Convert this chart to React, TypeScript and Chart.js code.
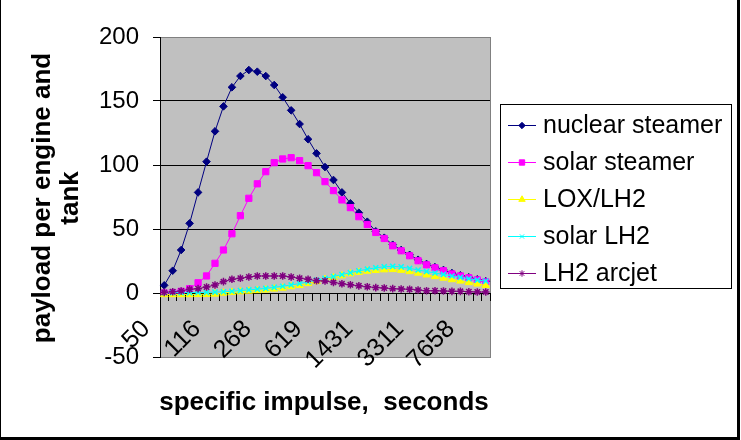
import React, { useEffect, useRef } from 'react';
import { Chart, registerables } from 'chart.js';
import { drawPoint } from 'chart.js/helpers';

Chart.register(...registerables);

// Specific impulse of each category, seconds
const ispSeconds = [
  50, 58, 66, 76, 88, 101, 116, 133, 153, 176, 203, 233, 268, 308, 354, 407, 468, 538, 619, 712,
  818, 941, 1082, 1244, 1431, 1645, 1891, 2174, 2499, 2873, 3311, 3807, 4377, 5033, 5787, 6654,
  7658, 8805, 10124,
];

// Category labels printed under the axis
const shownTicks = ['50', '116', '268', '619', '1431', '3311', '7658'];

// Payload per engine and tank
const nuclearSteamer = [
  6.0, 17.4, 33.6, 54.4, 78.6, 102.6, 126.3, 145.8, 160.7, 169.5, 174.2, 172.9, 169.5, 162.5,
  152.9, 142.7, 132.0, 120.1, 109.1, 98.4, 88.3, 78.6, 70.1, 62.7, 55.7, 48.2, 43.2, 37.7, 33.6,
  29.8, 26.0, 22.7, 20.2, 18.0, 15.6, 13.8, 12.3, 10.7, 9.2,
];
const solarSteamer = [
  0.0, 0.2, 1.3, 3.4, 8.0, 13.3, 23.2, 33.6, 46.3, 60.4, 74.0, 85.3, 94.8, 101.8, 104.7, 105.7,
  103.4, 99.5, 94.0, 87.0, 80.0, 72.7, 66.7, 59.6, 53.5, 47.3, 42.6, 36.9, 33.0, 29.1, 25.2, 22.0,
  19.7, 17.4, 14.9, 13.3, 11.9, 10.2, 8.7,
];
const loxLh2 = [
  -1.2, -1.2, -1.2, -1.2, -1.1, -1.0, -0.8, 0.0, 0.5, 1.0, 1.5, 1.9, 2.4, 3.2, 3.9, 5.0, 6.0, 7.5,
  9.0, 10.6, 12.1, 13.5, 15.1, 16.2, 17.1, 17.7, 18.2, 18.4, 17.8, 16.8, 15.6, 14.2, 12.9, 11.7,
  10.5, 9.4, 8.2, 7.1, 6.0,
];
const solarLh2 = [
  0.2, 0.2, 0.3, 0.3, 0.4, 0.5, 0.7, 1.0, 1.4, 1.9, 2.4, 3.0, 3.6, 4.4, 5.3, 6.3, 7.4, 8.7, 10.0,
  11.4, 12.9, 14.4, 15.9, 17.3, 18.6, 19.7, 20.5, 20.8, 20.4, 19.2, 18.0, 16.8, 15.6, 14.5, 13.3,
  12.2, 11.1, 10.1, 9.3,
];
const lh2Arcjet = [
  0.5, 1.0, 1.6, 2.9, 3.4, 4.7, 6.3, 8.9, 10.7, 11.5, 12.5, 13.3, 13.3, 13.3, 13.3, 12.5, 11.5,
  10.7, 9.6, 9.4, 8.3, 7.2, 6.4, 5.6, 4.9, 4.2, 3.9, 3.4, 3.1, 2.9, 2.3, 1.8, 1.8, 1.6, 1.3, 1.3,
  1.0, 0.8, 0.8,
];

const seriesNames = ['nuclear steamer', 'solar steamer', 'LOX/LH2', 'solar LH2', 'LH2 arcjet'];
const seriesData = [nuclearSteamer, solarSteamer, loxLh2, solarLh2, lh2Arcjet];
const seriesColors = ['#000080', '#FF00FF', '#FFFF00', '#00FFFF', '#800080'];
const seriesMarkers = ['rectRot', 'rect', 'triangle', 'crossRot', 'star'];
const markerRadius = [3.8, 4.4, 4.3, 3.6, 3.8];
const markerBorder = [1, 1, 1, 1.5, 1.5];

const FONT = '"Liberation Sans", Arial, sans-serif';

const decorations = {
  id: 'decorations',
  beforeDraw(chart: any) {
    const { ctx, chartArea: a } = chart;
    ctx.save();
    ctx.fillStyle = '#FFFFFF';
    ctx.fillRect(0, 0, chart.width, chart.height);
    ctx.fillStyle = '#C0C0C0';
    ctx.fillRect(a.left, a.top, a.right - a.left, a.bottom - a.top);
    ctx.strokeStyle = '#808080';
    ctx.lineWidth = 1;
    ctx.strokeRect(Math.round(a.left) + 0.5, Math.round(a.top) + 0.5, Math.round(a.right - a.left), Math.round(a.bottom - a.top));
    ctx.restore();
  },
  afterDraw(chart: any) {
    const { ctx } = chart;
    const xs = chart.scales.x;
    const ys = chart.scales.y;
    const y0 = ys.getPixelForValue(0);
    ctx.save();

    // rotated category labels
    ctx.fillStyle = '#000';
    ctx.font = `25px ${FONT}`;
    ctx.textAlign = 'right';
    ctx.textBaseline = 'middle';
    shownTicks.forEach((t) => {
      const idx = ispSeconds.indexOf(Number(t));
      const px = xs.getPixelForValue(idx);
      ctx.save();
      ctx.translate(px - 18, y0 + 32);
      ctx.rotate(-Math.PI / 4);
      ctx.fillText(t, 0, 0);
      ctx.restore();
    });

    // axis titles
    ctx.font = `bold 26px ${FONT}`;
    ctx.textAlign = 'center';
    ctx.textBaseline = 'middle';
    ctx.fillText('specific impulse,  seconds', 324, 403);
    ctx.save();
    ctx.translate(43, 198);
    ctx.rotate(-Math.PI / 2);
    ctx.fillText('payload per engine and', 0, 0);
    ctx.fillText('tank', 0, 28);
    ctx.restore();

    // legend
    const lx = 500.5, ly = 104.5, lw = 231, lh = 184;
    ctx.fillStyle = '#FFFFFF';
    ctx.fillRect(lx, ly, lw, lh);
    ctx.strokeStyle = '#000';
    ctx.lineWidth = 1;
    ctx.strokeRect(lx, ly, lw, lh);
    const rows = [125, 162, 199, 236, 273];
    seriesNames.forEach((name, i) => {
      const cy = rows[i];
      ctx.strokeStyle = seriesColors[i];
      ctx.fillStyle = seriesColors[i];
      ctx.lineWidth = 1;
      ctx.beginPath();
      ctx.moveTo(508, cy + 0.5);
      ctx.lineTo(536, cy + 0.5);
      ctx.stroke();
      drawPoint(ctx, { pointStyle: seriesMarkers[i], radius: markerRadius[i] - 0.6, borderWidth: markerBorder[i], rotation: 0 } as any, 522, cy + 0.5);
      ctx.fillStyle = '#000';
      ctx.font = `25px ${FONT}`;
      ctx.textAlign = 'left';
      ctx.textBaseline = 'middle';
      ctx.fillText(name, 543, cy + 1);
    });

    // outer frame
    ctx.fillStyle = '#000';
    ctx.fillRect(0, 0, 1, 440);
    ctx.fillRect(737, 0, 3, 440);
    ctx.fillRect(0, 437, 740, 3);
    ctx.restore();
  },
};

export default function App() {
  const ref = useRef<HTMLCanvasElement | null>(null);

  useEffect(() => {
    document.body.style.margin = '0';
    const canvas = ref.current;
    if (!canvas) return;
    const n = seriesNames.length;
    const chart = new Chart(canvas, {
      type: 'line',
      data: {
        labels: ispSeconds.map(String),
        datasets: seriesNames.map((name, i) => ({
          label: name,
          data: seriesData[i],
          borderColor: seriesColors[i],
          backgroundColor: seriesColors[i],
          borderWidth: 1,
          pointStyle: seriesMarkers[i] as any,
          pointRadius: markerRadius[i],
          pointBorderWidth: markerBorder[i],
          pointBackgroundColor: seriesColors[i],
          pointBorderColor: seriesColors[i],
          tension: 0,
          order: n - i,
        })),
      },
      options: {
        responsive: false,
        animation: false,
        events: [],
        layout: { padding: { left: 0, top: 37, right: 251, bottom: 83 } },
        plugins: { legend: { display: false }, tooltip: { enabled: false } },
        scales: {
          x: {
            type: 'category',
            position: { y: 0 } as any,
            offset: true,
            grid: {
              display: true,
              drawOnChartArea: false,
              drawTicks: true,
              tickLength: 7,
              offset: true,
              color: '#000',
              tickColor: '#000',
            },
            border: { display: true, color: '#000', width: 1 },
            ticks: { display: false, autoSkip: false },
          },
          y: {
            min: -50,
            max: 200,
            ticks: {
              stepSize: 50,
              color: '#000',
              padding: 14,
              font: { family: FONT, size: 24 },
            },
            grid: {
              color: (c: any) => (c.tick && (c.tick.value === 200 || c.tick.value === -50) ? '#808080' : '#000'),
              tickColor: '#000',
              tickLength: 7,
              lineWidth: 1,
            },
            border: { display: true, color: '#000', width: 1 },
            afterFit: (s: any) => {
              s.width = 160;
            },
          },
        },
      },
      plugins: [decorations],
    });
    return () => chart.destroy();
  }, []);

  return (
    <div style={{ width: 741, height: 440 }}>
      <canvas ref={ref} width={741} height={440} style={{ display: 'block' }} />
    </div>
  );
}
